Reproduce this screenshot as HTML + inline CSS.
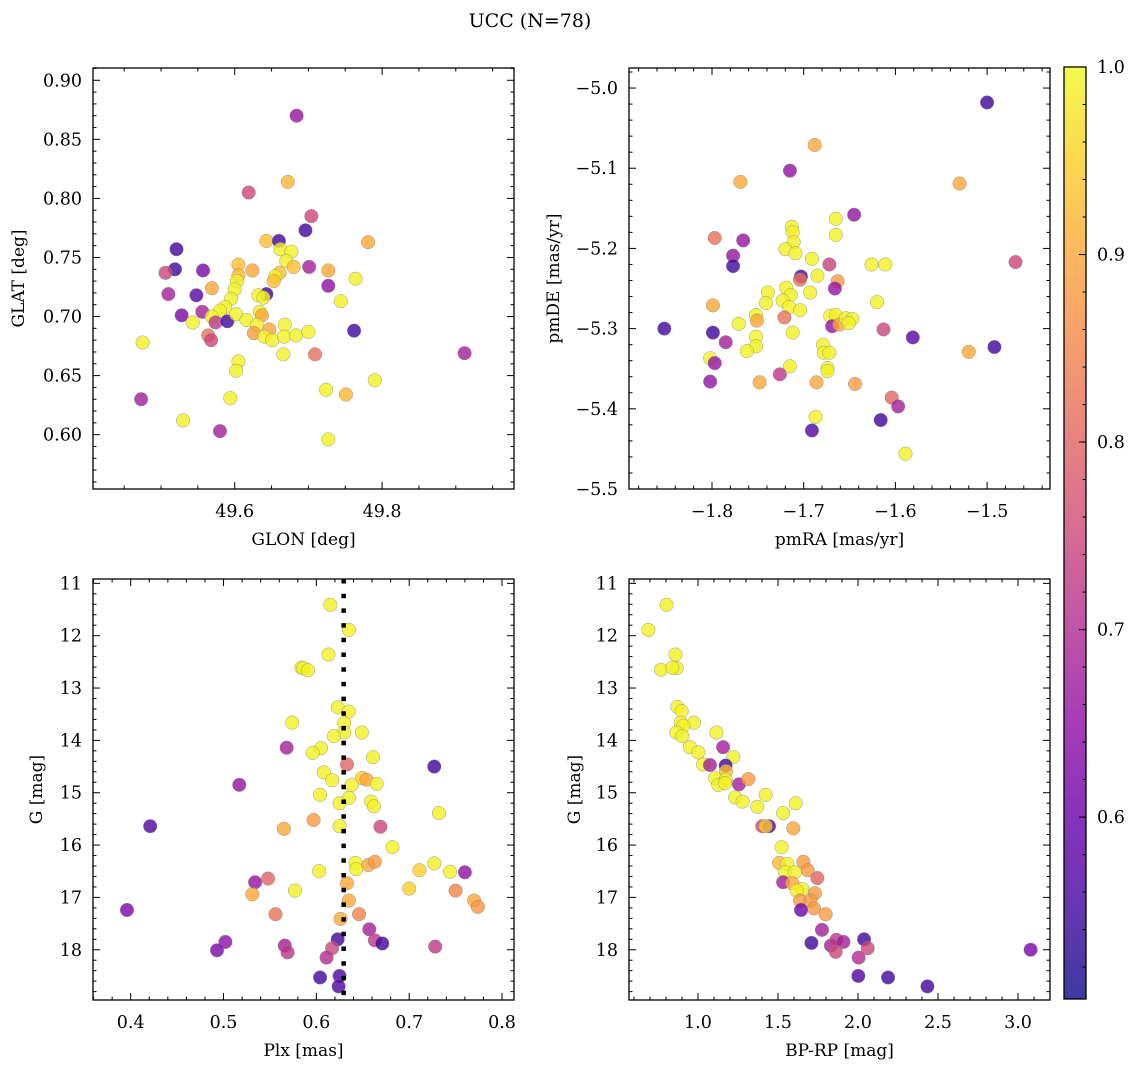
<!DOCTYPE html>
<html><head><meta charset="utf-8">
<style>
body{margin:0;background:#fff;}
svg{display:block;font-family:"DejaVu Serif","Liberation Serif",serif;}
</style></head>
<body>
<svg id="fig" width="1136" height="1067" viewBox="0 0 1136 1067" xmlns="http://www.w3.org/2000/svg">
<defs>
<linearGradient id="plasma" x1="0" y1="1" x2="0" y2="0">
<stop offset="0" stop-color="#0d0887"/><stop offset="0.1" stop-color="#41049d"/><stop offset="0.2" stop-color="#6a00a8"/><stop offset="0.3" stop-color="#8f0da4"/><stop offset="0.4" stop-color="#b12a90"/><stop offset="0.5" stop-color="#cc4778"/><stop offset="0.6" stop-color="#e16462"/><stop offset="0.7" stop-color="#f2844b"/><stop offset="0.8" stop-color="#fca636"/><stop offset="0.9" stop-color="#fcce25"/><stop offset="1" stop-color="#f0f921"/>
</linearGradient>
</defs>
<text x="530" y="27" font-size="19" text-anchor="middle">UCC (N=78)</text>
</svg>
<script>
// Panel 1: GLON / GLAT
const p1x=[49.684,49.672,49.619,49.704,49.696,49.781,49.643,49.660,49.662,49.677,49.670,49.680,49.521,49.519,49.506,49.557,49.605,49.624,49.701,49.727,49.764,49.727,49.510,49.548,49.569,49.605,49.603,49.600,49.661,49.655,49.653,49.643,49.632,49.639,49.595,49.587,49.580,49.528,49.556,49.569,49.574,49.590,49.602,49.616,49.634,49.637,49.630,49.647,49.626,49.640,49.651,49.668,49.667,49.683,49.700,49.744,49.762,49.543,49.564,49.568,49.475,49.666,49.709,49.605,49.602,49.790,49.724,49.751,49.473,49.594,49.530,49.580,49.727,49.912];
const p1y=[0.870,0.814,0.805,0.785,0.773,0.763,0.764,0.764,0.757,0.755,0.747,0.742,0.757,0.740,0.737,0.739,0.744,0.739,0.742,0.739,0.732,0.726,0.719,0.718,0.724,0.735,0.730,0.723,0.737,0.734,0.730,0.719,0.718,0.716,0.715,0.708,0.705,0.701,0.704,0.700,0.695,0.696,0.702,0.697,0.704,0.701,0.693,0.689,0.686,0.683,0.680,0.693,0.683,0.684,0.687,0.713,0.688,0.695,0.684,0.680,0.678,0.668,0.668,0.662,0.654,0.646,0.638,0.634,0.630,0.631,0.612,0.603,0.596,0.669];
const p1c=[0.66,0.92,0.75,0.75,0.55,0.90,0.93,0.55,0.99,0.99,0.99,0.93,0.55,0.55,0.75,0.62,0.93,0.90,0.68,0.90,0.99,0.65,0.68,0.58,0.90,0.92,0.99,0.99,0.93,0.99,0.93,0.55,0.99,0.99,0.99,0.99,0.99,0.62,0.68,0.99,0.72,0.55,0.99,0.99,0.99,0.90,0.99,0.90,0.88,0.99,0.99,0.99,0.99,0.99,0.99,0.99,0.55,0.99,0.82,0.75,0.99,0.99,0.82,0.99,0.99,0.99,0.99,0.92,0.68,0.99,0.99,0.68,0.99,0.68];
// Panel 2: pmRA / pmDE
const p2x=[-1.500,-1.688,-1.715,-1.769,-1.530,-1.645,-1.665,-1.665,-1.797,-1.766,-1.713,-1.712,-1.711,-1.720,-1.709,-1.777,-1.777,-1.691,-1.672,-1.626,-1.611,-1.685,-1.703,-1.704,-1.663,-1.666,-1.693,-1.739,-1.719,-1.714,-1.723,-1.741,-1.620,-1.799,-1.716,-1.704,-1.752,-1.751,-1.721,-1.671,-1.665,-1.669,-1.661,-1.654,-1.647,-1.651,-1.852,-1.799,-1.771,-1.712,-1.613,-1.581,-1.492,-1.520,-1.785,-1.752,-1.752,-1.762,-1.679,-1.678,-1.672,-1.802,-1.797,-1.715,-1.674,-1.674,-1.802,-1.748,-1.726,-1.686,-1.644,-1.604,-1.597,-1.687,-1.691,-1.616,-1.589,-1.469];
const p2y=[-5.018,-5.071,-5.103,-5.117,-5.119,-5.158,-5.163,-5.183,-5.187,-5.190,-5.173,-5.180,-5.192,-5.201,-5.206,-5.209,-5.222,-5.213,-5.220,-5.220,-5.220,-5.234,-5.235,-5.239,-5.241,-5.250,-5.255,-5.255,-5.249,-5.258,-5.265,-5.268,-5.267,-5.271,-5.273,-5.277,-5.283,-5.290,-5.286,-5.284,-5.283,-5.297,-5.295,-5.287,-5.288,-5.293,-5.300,-5.305,-5.294,-5.305,-5.301,-5.311,-5.323,-5.329,-5.317,-5.310,-5.322,-5.328,-5.320,-5.330,-5.330,-5.337,-5.343,-5.347,-5.349,-5.353,-5.366,-5.367,-5.357,-5.367,-5.369,-5.386,-5.397,-5.410,-5.427,-5.414,-5.456,-5.217];
const p2c=[0.55,0.90,0.66,0.90,0.90,0.66,0.99,0.99,0.82,0.66,0.99,0.99,0.99,0.99,0.99,0.66,0.55,0.99,0.74,0.99,0.99,0.99,0.55,0.82,0.88,0.66,0.99,0.99,0.99,0.99,0.99,0.99,0.99,0.90,0.99,0.99,0.99,0.90,0.82,0.99,0.99,0.66,0.90,0.99,0.99,0.99,0.55,0.55,0.99,0.99,0.75,0.58,0.55,0.90,0.68,0.99,0.99,0.99,0.99,0.99,0.99,0.99,0.66,0.99,0.99,0.99,0.66,0.90,0.72,0.90,0.88,0.80,0.68,0.99,0.57,0.55,0.99,0.75];
// Panel 3: Plx / G
const p3x=[0.615,0.635,0.613,0.584,0.586,0.591,0.623,0.635,0.574,0.630,0.630,0.619,0.649,0.568,0.605,0.596,0.661,0.633,0.727,0.608,0.617,0.649,0.654,0.665,0.638,0.517,0.604,0.635,0.625,0.659,0.662,0.732,0.421,0.565,0.597,0.625,0.669,0.682,0.642,0.643,0.656,0.663,0.603,0.727,0.711,0.744,0.760,0.534,0.548,0.633,0.577,0.531,0.700,0.750,0.635,0.770,0.774,0.396,0.556,0.646,0.626,0.657,0.623,0.663,0.671,0.728,0.502,0.493,0.566,0.569,0.617,0.611,0.604,0.625,0.624];
const p3y=[11.41,11.89,12.36,12.61,12.62,12.66,13.37,13.45,13.66,13.67,13.85,13.92,13.85,14.14,14.15,14.24,14.32,14.46,14.50,14.61,14.76,14.72,14.75,14.83,14.85,14.85,15.04,15.10,15.20,15.17,15.26,15.39,15.64,15.69,15.52,15.64,15.65,16.04,16.34,16.46,16.38,16.32,16.50,16.35,16.48,16.51,16.52,16.71,16.64,16.73,16.87,16.94,16.83,16.87,17.06,17.06,17.18,17.24,17.32,17.32,17.41,17.61,17.80,17.82,17.88,17.94,17.85,18.01,17.92,18.05,17.97,18.15,18.53,18.50,18.70];
const p3c=[0.99,0.99,0.99,0.99,0.99,0.99,0.99,0.99,0.99,0.99,0.99,0.99,0.99,0.68,0.99,0.99,0.99,0.80,0.55,0.99,0.99,0.95,0.90,0.99,0.99,0.66,0.99,0.99,0.99,0.99,0.99,0.99,0.57,0.90,0.88,0.99,0.75,0.99,0.99,0.99,0.90,0.88,0.99,0.99,0.95,0.99,0.65,0.66,0.80,0.90,0.99,0.90,0.95,0.85,0.90,0.90,0.88,0.62,0.82,0.85,0.90,0.68,0.55,0.72,0.55,0.72,0.65,0.62,0.68,0.72,0.75,0.70,0.55,0.57,0.57];
const plxRef=[0.6294];
// Panel 4: BP-RP / G
const p4x=[0.804,0.690,0.859,0.769,0.867,0.840,0.871,0.898,0.975,0.892,0.909,0.865,0.902,1.115,1.157,0.950,1.002,1.221,1.032,1.075,1.173,1.175,1.107,1.173,1.127,1.169,1.256,1.315,1.232,1.279,1.423,1.371,1.532,1.611,1.402,1.444,1.423,1.596,1.523,1.507,1.559,1.659,1.686,1.544,1.604,1.532,1.746,1.590,1.652,1.617,1.731,1.638,1.704,1.725,1.798,1.644,1.775,1.709,1.831,1.865,1.909,1.861,2.004,2.038,2.061,2.002,2.188,2.434,3.079];
const p4y=[11.41,11.89,12.36,12.65,12.62,12.61,13.36,13.44,13.66,13.66,13.72,13.85,13.92,13.85,14.13,14.13,14.23,14.32,14.46,14.47,14.48,14.59,14.72,14.75,14.85,14.82,14.84,14.74,15.09,15.17,15.04,15.27,15.39,15.20,15.64,15.64,15.64,15.68,16.04,16.34,16.36,16.32,16.48,16.52,16.52,16.71,16.63,16.73,16.84,16.87,16.92,17.06,17.06,17.21,17.32,17.24,17.62,17.87,17.92,17.81,17.85,18.04,18.15,17.80,17.97,18.50,18.53,18.70,18.00];
const p4c=[0.99,0.99,0.99,0.99,0.99,0.99,0.99,0.99,0.99,0.99,0.99,0.99,0.99,0.99,0.68,0.99,0.99,0.99,0.99,0.68,0.55,0.93,0.99,0.99,0.99,0.99,0.68,0.88,0.99,0.99,0.99,0.99,0.99,0.99,0.75,0.58,0.95,0.90,0.99,0.92,0.99,0.88,0.88,0.99,0.99,0.68,0.80,0.90,0.99,0.99,0.88,0.88,0.88,0.88,0.88,0.60,0.68,0.55,0.68,0.72,0.68,0.75,0.70,0.55,0.75,0.57,0.55,0.55,0.62];
const cbTicks=[0.6,0.7,0.8,0.9,1.0];

const NS='http://www.w3.org/2000/svg';
const svg=document.getElementById('fig');
const VMIN=0.503,VMAX=1.0;
const stops=['#0d0887','#41049d','#6a00a8','#8f0da4','#b12a90','#cc4778','#e16462','#f2844b','#fca636','#fcce25','#f0f921'];
function hx(h){return [1,3,5].map(i=>parseInt(h.substr(i,2),16));}
function cmap(v){let t=Math.max(0,Math.min(1,(v-VMIN)/(VMAX-VMIN)))*10;let i=Math.min(9,Math.floor(t)),f=t-i;const a=hx(stops[i]),b=hx(stops[i+1]);return 'rgb('+a.map((x,k)=>Math.round(x+(b[k]-x)*f)).join(',')+')';}
function mk(tag,attrs,parent){const e=document.createElementNS(NS,tag);for(const k in attrs)e.setAttribute(k,attrs[k]);(parent||svg).appendChild(e);return e;}
function fmt(v,d){return (v<0?'\u2212':'')+Math.abs(v).toFixed(d);}

function panel(o){
  const g=mk('g',{});
  
  
  const sx=v=>o.L+(v-o.x0)/(o.x1-o.x0)*(o.R-o.L);
  const sy=o.inv?(v=>o.T+(v-o.y0)/(o.y1-o.y0)*(o.B-o.T)):(v=>o.B-(v-o.y0)/(o.y1-o.y0)*(o.B-o.T));
  for(let i=0;i<o.xs.length;i++){
    const c=mk('circle',{cx:sx(o.xs[i]),cy:sy(o.ys[i]),r:6.8,fill:cmap(o.cs[i]),'fill-opacity':0.8,stroke:'#888','stroke-width':0.5,'stroke-opacity':0.8},g);
    
    
  }
  if(o.vline){
    const l=mk('line',{x1:sx(o.vline[0]),x2:sx(o.vline[0]),y1:o.T,y2:o.B,stroke:'#000','stroke-width':4.5,'stroke-dasharray':'4.5 10.2'},g);
    
    
  }
  const fr=mk('rect',{x:o.L,y:o.T,width:o.R-o.L,height:o.B-o.T,fill:'none',stroke:'#000','stroke-width':1.3},g);
  
  
  const eps=1e-9;
  for(let k=Math.ceil(o.x0/o.xmi-eps);k*o.xmi<=o.x1+eps;k++){
    const v=k*o.xmi,X=sx(v);const maj=Math.abs(v/o.xma-Math.round(v/o.xma))<1e-6;const len=maj?7:3.5;
    mk('line',{x1:X,x2:X,y1:o.B,y2:o.B-len,stroke:'#000','stroke-width':1},g);
    mk('line',{x1:X,x2:X,y1:o.T,y2:o.T+len,stroke:'#000','stroke-width':1},g);
    if(maj){const t=mk('text',{x:X,y:o.B+28,'font-size':17.5,'text-anchor':'middle'},g);t.textContent=fmt(v,o.xd);
      }
  }
  for(let k=Math.ceil(Math.min(o.y0,o.y1)/o.ymi-eps);k*o.ymi<=Math.max(o.y0,o.y1)+eps;k++){
    const v=k*o.ymi,Y=sy(v);const maj=Math.abs(v/o.yma-Math.round(v/o.yma))<1e-6;const len=maj?7:3.5;
    mk('line',{x1:o.L,x2:o.L+len,y1:Y,y2:Y,stroke:'#000','stroke-width':1},g);
    mk('line',{x1:o.R,x2:o.R-len,y1:Y,y2:Y,stroke:'#000','stroke-width':1},g);
    if(maj){const t=mk('text',{x:o.L-11,y:Y+6,'font-size':17.5,'text-anchor':'end'},g);t.textContent=fmt(v,o.yd);
      }
  }
  const xl=mk('text',{x:(o.L+o.R)/2,y:o.B+56,'font-size':17,'text-anchor':'middle'},g);xl.textContent=o.xlab;
  
  const cy=(o.T+o.B)/2;
  const yl=mk('text',{x:o.ylx,y:cy,'font-size':17,'text-anchor':'middle',transform:'rotate(-90 '+o.ylx+' '+cy+')'},g);yl.textContent=o.ylab;
  
}
panel({name:'glon-glat-panel',L:93,R:514,T:68,B:489,x0:49.4077,x1:49.979,y0:0.554,y1:0.9104,xma:0.2,xmi:0.05,yma:0.05,ymi:0.01,xd:1,yd:2,xs:p1x,ys:p1y,cs:p1c,xlab:'GLON [deg]',ylab:'GLAT [deg]',ylx:24});
panel({name:'proper-motion-panel',L:629,R:1050,T:68,B:489,x0:-1.8905,x1:-1.4314,y0:-5.5,y1:-4.975,xma:0.1,xmi:0.02,yma:0.1,ymi:0.02,xd:1,yd:1,xs:p2x,ys:p2y,cs:p2c,xlab:'pmRA [mas/yr]',ylab:'pmDE [mas/yr]',ylx:559});
panel({name:'plx-g-panel',L:93,R:514,T:579,B:1000,x0:0.3594,x1:0.8129,y0:10.917,y1:18.96,inv:true,xma:0.1,xmi:0.02,yma:1,ymi:0.2,xd:1,yd:0,xs:p3x,ys:p3y,cs:p3c,xlab:'Plx [mas]',ylab:'G [mag]',ylx:42,vline:plxRef});
panel({name:'cmd-panel',L:629,R:1050,T:579,B:1000,x0:0.569,x1:3.2,y0:10.917,y1:18.96,inv:true,xma:0.5,xmi:0.1,yma:1,ymi:0.2,xd:1,yd:0,xs:p4x,ys:p4y,cs:p4c,xlab:'BP-RP [mag]',ylab:'G [mag]',ylx:580});

const cb=mk('g',{});


const CT=67,CB=999,CL=1064,CR=1086;
mk('rect',{x:CL,y:CT,width:CR-CL,height:CB-CT,fill:'url(#plasma)','fill-opacity':0.8},cb);
mk('rect',{x:CL,y:CT,width:CR-CL,height:CB-CT,fill:'none',stroke:'#000','stroke-width':1.3},cb);
const cyf=v=>CB-(v-VMIN)/(VMAX-VMIN)*(CB-CT);
for(let k=26;k<=50;k++){const v=k*0.02;if(v<VMIN)continue;const Y=cyf(v);mk('line',{x1:CR,x2:CR-3.5,y1:Y,y2:Y,stroke:'#000','stroke-width':1},cb);}
cbTicks.forEach(v=>{const Y=cyf(v);mk('line',{x1:CR,x2:CR-7,y1:Y,y2:Y,stroke:'#000','stroke-width':1},cb);
  const t=mk('text',{x:CR+11,y:Y+6,'font-size':17.5},cb);t.textContent=v.toFixed(1);
  });
</script>
</body></html>
